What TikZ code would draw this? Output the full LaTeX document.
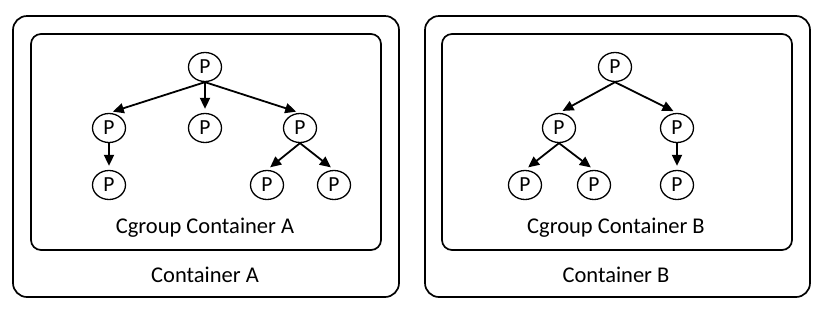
\documentclass[tikz,border=0pt]{standalone}
\usepackage{fontspec}
\setmainfont{Carlito}
\usetikzlibrary{shapes.geometric,arrows.meta}
\begin{document}
\begin{tikzpicture}[x=1pt,y=-1pt,
  outerbox/.style={draw,line width=1.7pt,rounded corners=14pt},
  innerbox/.style={draw,line width=1.7pt,rounded corners=10pt},
  proc/.style={draw,ellipse,line width=1.3pt,minimum width=33pt,minimum height=29pt,inner sep=0pt,font=\fontsize{21.5}{25}\selectfont},
  lbl/.style={font=\fontsize{22.5}{27}\selectfont,inner sep=0pt},
  arr/.style={-{Triangle[length=11pt,width=10pt]},line width=1.8pt,shorten >=4pt}]
\useasboundingbox (0,0) rectangle (825,309);
% Container A
\node[outerbox,minimum width=386pt,minimum height=281pt,inner sep=0pt] (ca) at (206,156.5) {};
\node[innerbox,minimum width=350pt,minimum height=216pt,inner sep=0pt] (ga) at (206,142) {};
\node[lbl] (tga) at (205,228) {Cgroup Container A};
\node[lbl] (tca) at (205,275) {Container A};
\node[proc] (a0) at (205,67) {P};
\node[proc] (a1) at (109,128) {P};
\node[proc] (a2) at (205,128) {P};
\node[proc] (a3) at (300,128) {P};
\node[proc] (a4) at (109,185) {P};
\node[proc] (a5) at (267,185) {P};
\node[proc] (a6) at (334,185) {P};
\draw[arr] (a0.south) -- (a1.north);
\draw[arr] (a0.south) -- (a2.north);
\draw[arr] (a0.south) -- (a3.north);
\draw[arr] (a1.south) -- (a4.north);
\draw[arr] (a3.south) -- (a5.north);
\draw[arr] (a3.south) -- (a6.north);
% Container B
\node[outerbox,minimum width=385pt,minimum height=281pt,inner sep=0pt] (cb) at (617.5,156.5) {};
\node[innerbox,minimum width=350pt,minimum height=216pt,inner sep=0pt] (gb) at (617,142) {};
\node[lbl] (tgb) at (616,228) {Cgroup Container B};
\node[lbl] (tcb) at (616,275) {Container B};
\node[proc] (b0) at (615,67) {P};
\node[proc] (b1) at (559,128) {P};
\node[proc] (b2) at (677,128) {P};
\node[proc] (b3) at (525,185) {P};
\node[proc] (b4) at (594,185) {P};
\node[proc] (b5) at (677,185) {P};
\draw[arr] (b0.south) -- (b1.north);
\draw[arr] (b0.south) -- (b2.north);
\draw[arr] (b1.south) -- (b3.north);
\draw[arr] (b1.south) -- (b4.north);
\draw[arr] (b2.south) -- (b5.north);
\end{tikzpicture}
\end{document}
